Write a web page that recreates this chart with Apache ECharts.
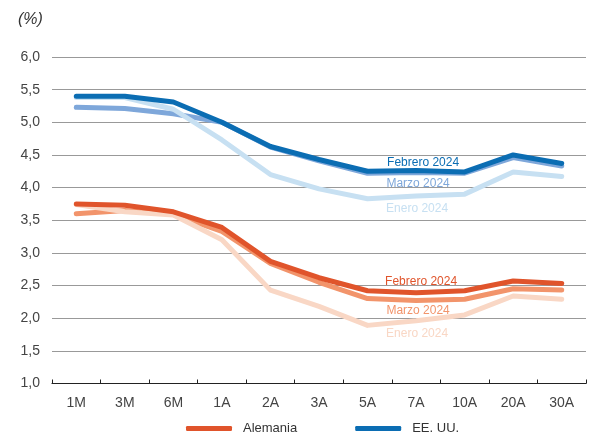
<!DOCTYPE html>
<html>
<head>
<meta charset="utf-8">
<script src="https://cdn.jsdelivr.net/npm/echarts@6/dist/echarts.min.js"></script>
<style>
  html, body { margin: 0; padding: 0; background: #fff; }
  #chart { width: 589px; height: 444px; }
</style>
</head>
<body>
<div id="chart"></div>
<script>
// Curvas de rendimiento de la deuda pública (%)
const plazos = ['1M', '3M', '6M', '1A', '2A', '3A', '5A', '7A', '10A', '20A', '30A'];

const eeuuEnero   = [5.38, 5.38, 5.20, 4.73, 4.20, 3.98, 3.83, 3.87, 3.90, 4.24, 4.17];
const eeuuFebrero = [5.40, 5.40, 5.31, 5.00, 4.63, 4.43, 4.25, 4.26, 4.24, 4.50, 4.37];
const eeuuMarzo   = [5.23, 5.21, 5.13, 5.00, 4.62, 4.41, 4.22, 4.23, 4.22, 4.46, 4.33];

const alemEnero   = [3.74, 3.63, 3.58, 3.20, 2.43, 2.18, 1.89, 1.96, 2.05, 2.34, 2.29];
const alemFebrero = [3.75, 3.73, 3.63, 3.39, 2.87, 2.62, 2.42, 2.39, 2.42, 2.57, 2.53];
const alemMarzo   = [3.60, 3.65, 3.59, 3.33, 2.84, 2.55, 2.30, 2.27, 2.29, 2.45, 2.43];

const yTicks = { min: 1, max: 6, step: 0.5 };

const C = {
  usFeb: '#0b6db3', usMar: '#7ea7da', usJan: '#c7e0f2',
  deFeb: '#e0542b', deMar: '#f2946b', deJan: '#f9d7c5'
};

const labelFont = '"Liberation Sans Narrow", "Arial Narrow", "Liberation Sans", Arial, sans-serif';

function curve(name, data, color, label, offset, anchor) {
  return {
    name: name,
    type: 'line',
    data: data,
    showSymbol: false,
    symbol: 'none',
    silent: true,
    lineStyle: { color: color, width: 5, cap: 'round', join: 'round' },
    itemStyle: { color: color },
    markPoint: {
      silent: true,
      symbol: 'circle',
      symbolSize: 0,
      data: [{
        coord: [anchor, data[plazos.indexOf(anchor)]],
        label: {
          show: true,
          formatter: label,
          color: color,
          fontSize: 12,
          fontFamily: labelFont,
          offset: offset
        }
      }]
    }
  };
}

const chart = echarts.init(document.getElementById('chart'));
chart.setOption({
  animation: false,
  title: {
    text: '(%)',
    left: 13,
    top: 7,
    textStyle: { fontSize: 16, fontStyle: 'italic', fontWeight: 'normal', color: '#333', fontFamily: 'Arial, sans-serif' }
  },
  grid: { left: 52, right: 3, top: 57, bottom: 60.5 },
  legend: {
    bottom: 4,
    left: 181,
    itemGap: 58,
    itemWidth: 46,
    itemHeight: 5,
    icon: 'roundRect',
    data: ['Alemania', 'EE. UU.'],
    textStyle: { fontSize: 13, color: '#333', fontFamily: labelFont, padding: [0, 0, 0, 6] }
  },
  xAxis: {
    type: 'category',
    data: plazos,
    boundaryGap: true,
    axisLine: { lineStyle: { color: '#222', width: 1.2 } },
    axisTick: { show: true, inside: true, length: 4, lineStyle: { color: '#222' } },
    axisLabel: { fontSize: 14, color: '#444', margin: 13, fontFamily: labelFont }
  },
  yAxis: {
    type: 'value',
    min: yTicks.min,
    max: yTicks.max,
    interval: yTicks.step,
    axisLine: { show: false },
    axisTick: { show: false },
    splitLine: { lineStyle: { color: '#999', width: 1 } },
    axisLabel: {
      fontSize: 14, color: '#444', margin: 12, fontFamily: labelFont,
      formatter: v => v.toFixed(1).replace('.', ',')
    }
  },
  series: [
    curve('Marzo EE. UU.', eeuuMarzo, C.usMar, 'Marzo 2024', [2, 11], '7A'),
    curve('Enero EE. UU.', eeuuEnero, C.usJan, 'Enero 2024', [1, 13], '7A'),
    curve('Febrero EE. UU.', eeuuFebrero, C.usFeb, 'Febrero 2024', [7, -8], '7A'),
    curve('Marzo Alemania', alemMarzo, C.deMar, 'Marzo 2024', [2, 10], '7A'),
    curve('Enero Alemania', alemEnero, C.deJan, 'Enero 2024', [1, 13], '7A'),
    curve('Febrero Alemania', alemFebrero, C.deFeb, 'Febrero 2024', [5, -11.5], '7A'),
    { name: 'Alemania', type: 'line', data: [], itemStyle: { color: C.deFeb }, lineStyle: { color: C.deFeb } },
    { name: 'EE. UU.', type: 'line', data: [], itemStyle: { color: C.usFeb }, lineStyle: { color: C.usFeb } }
  ]
});
</script>
</body>
</html>
